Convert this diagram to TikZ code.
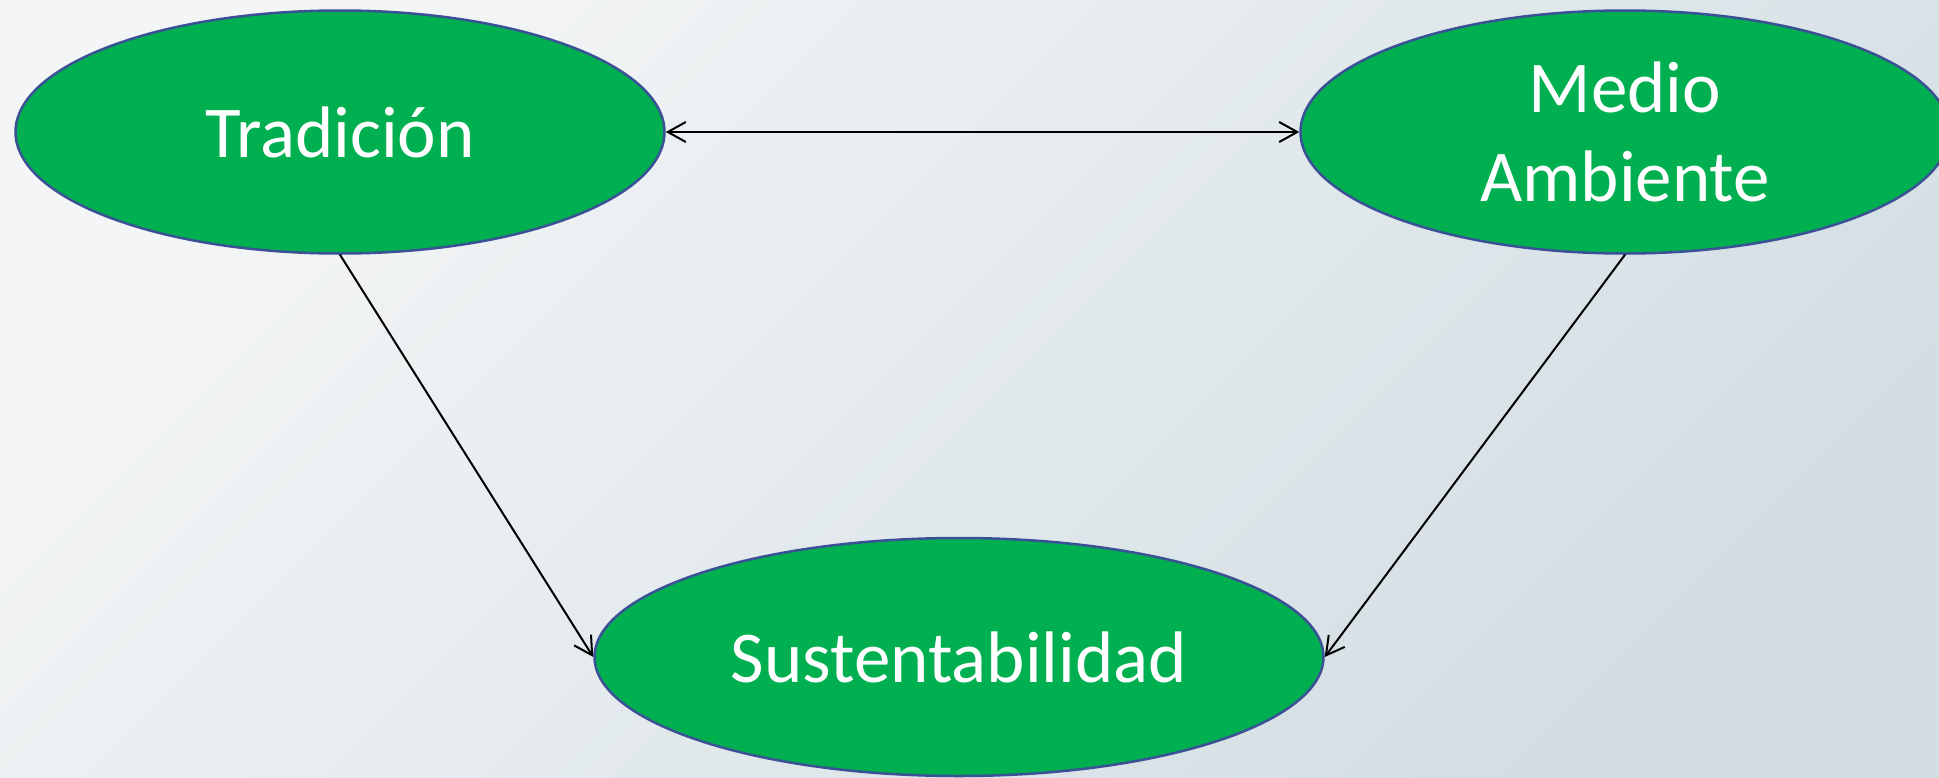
\documentclass[tikz,border=0pt]{standalone}
\usepackage{fontspec}
\setmainfont{Carlito}
\usetikzlibrary{shapes.geometric,arrows.meta}

\definecolor{verde}{HTML}{00B050}
\definecolor{borde}{HTML}{3A5295}
\definecolor{fondoA}{HTML}{F4F5F6}
\definecolor{fondoB}{HTML}{D2DEE3}

\tikzstyle{elipse} = [ellipse, draw=borde, fill=verde, line width=1.25pt, text=white, align=center, font=\fontsize{36.5}{44.5}\selectfont, minimum width=324.5pt, minimum height=121.5pt, inner sep=0pt]
\tikzstyle{flecha} = [line width=1pt, >={Straight Barb[length=9pt,width=10pt]}]

\begin{document}
\begin{tikzpicture}[x=0.5pt,y=-0.5pt]
        % Fondo con degradado
        \useasboundingbox (0,0) rectangle (1939,777);
        \shade[top color=fondoA, bottom color=fondoB, shading angle=45] (0,0) rectangle (1939,777);
        % Los tres conceptos
        \node (trad) at (340,132) [elipse] {Tradición};
        \node (medio) at (1625,132) [elipse] {Medio\\Ambiente};
        \node (sust) at (959,657) [elipse, minimum width=364.5pt, minimum height=119pt] {Sustentabilidad};
        % Relaciones
        \draw[flecha, <->] (trad.east) -- (medio.west);
        \draw[flecha, ->] (trad.south) -- (sust.west);
        \draw[flecha, ->] (medio.south) -- (sust.east);
\end{tikzpicture}
\end{document}
